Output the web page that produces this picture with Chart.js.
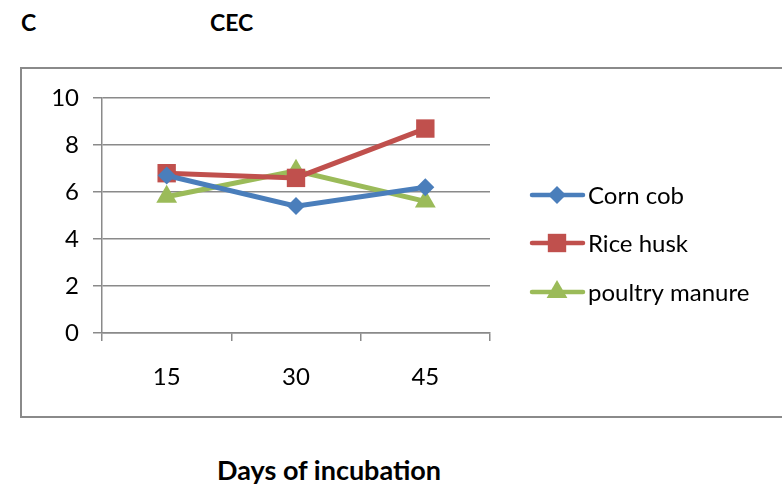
<!DOCTYPE html>
<html>
<head>
<meta charset="utf-8">
<script src="https://cdn.jsdelivr.net/npm/chart.js@4"></script>
<style>
  html, body { margin: 0; padding: 0; background: #fff; }
  #wrap { position: relative; width: 782px; height: 488px; overflow: hidden; font-family: Lato, "Liberation Sans", sans-serif; }
  #box { position: absolute; left: 20px; top: 67px; width: 800px; height: 351px; border: 2px solid #8a8a8a; box-sizing: border-box; }
  .lbl { position: absolute; font-weight: bold; font-size: 23px; color: #000; line-height: 1; }
  canvas { position: absolute; left: 0; top: 0; }
</style>
</head>
<body>
<div id="wrap">
  <div class="lbl" style="left:21px; top:11px;">C</div>
  <div id="box"></div>
  <div class="lbl" style="left:210px; top:11px;">CEC</div>
  <div class="lbl" style="left:217px; top:456px; font-size:27px;">Days of incubation</div>
  <canvas id="myChart" width="782" height="488"></canvas>
</div>
<script>
// chart data
const days = ['15', '30', '45'];
const cornCob = [6.7, 5.4, 6.2];
const riceHusk = [6.8, 6.6, 8.7];
const poultryManure = [5.8, 6.9, 5.6];
const yTicks = [0, 2, 4, 6, 8, 10];

const seriesNames = ['Corn cob', 'Rice husk', 'poultry manure'];
const colors = ['#4a7ebb', '#c0504d', '#9bbb59'];
const markers = [
    { style: 'rectRot', radius: 9 },
    { style: 'rect', radius: 13 },
    { style: 'triangle', radius: 12 }
];
const fontFam = 'Lato, "Liberation Sans", sans-serif';

// Legend with line + marker, drawn to the right of the plot
const sideLegend = {
    id: 'sideLegend',
    afterDraw(chart) {
        const c = chart.ctx;
        const rows = [195, 243, 292];
        chart.data.datasets.forEach((ds, i) => {
            const y = rows[i];
            c.save();
            c.strokeStyle = ds.borderColor;
            c.lineWidth = 4.5;
            c.lineCap = 'round';
            c.beginPath();
            c.moveTo(532, y);
            c.lineTo(583, y);
            c.stroke();
            c.fillStyle = ds.backgroundColor;
            Chart.helpers.drawPoint(c, { pointStyle: ds.pointStyle, radius: ds.pointRadius, rotation: 0, borderWidth: 0 }, 557, y);
            c.fillStyle = '#000';
            c.font = '24px ' + fontFam;
            c.textBaseline = 'middle';
            c.fillText(ds.label, 588, y + 1);
            c.restore();
        });
    }
};

const ctx = document.getElementById('myChart');
new Chart(ctx, {
    type: 'line',
    data: {
        labels: days,
        datasets: [cornCob, riceHusk, poultryManure].map((vals, i) => ({
            label: seriesNames[i],
            data: vals,
            borderColor: colors[i],
            backgroundColor: colors[i],
            borderWidth: 5,
            pointStyle: markers[i].style,
            pointRadius: markers[i].radius,
            pointHoverRadius: markers[i].radius,
            pointBorderWidth: 0,
            tension: 0
        }))
    },
    options: {
        responsive: false,
        animation: false,
        layout: { padding: { top: 98, left: 0, right: 292, bottom: 0 } },
        plugins: {
            legend: { display: false },
            tooltip: { enabled: false }
        },
        scales: {
            x: {
                offset: true,
                afterFit: (s) => { s.height = 155; },
                grid: { offset: true, drawOnChartArea: false, drawTicks: true, tickLength: 8, color: '#8a8a8a', lineWidth: 1.5 },
                border: { color: '#8a8a8a', width: 1.5 },
                ticks: { color: '#000', padding: 22, font: { family: fontFam, size: 24 } }
            },
            y: {
                min: 0,
                max: 10,
                afterFit: (s) => { s.width = 102; },
                afterBuildTicks: (s) => { s.ticks = yTicks.map(v => ({ value: v })); },
                grid: { color: '#8a8a8a', lineWidth: 1.5, tickLength: 9 },
                border: { color: '#8a8a8a', width: 1.5 },
                ticks: { color: '#000', padding: 14, font: { family: fontFam, size: 24 } }
            }
        }
    },
    plugins: [sideLegend]
});
</script>
</body>
</html>
